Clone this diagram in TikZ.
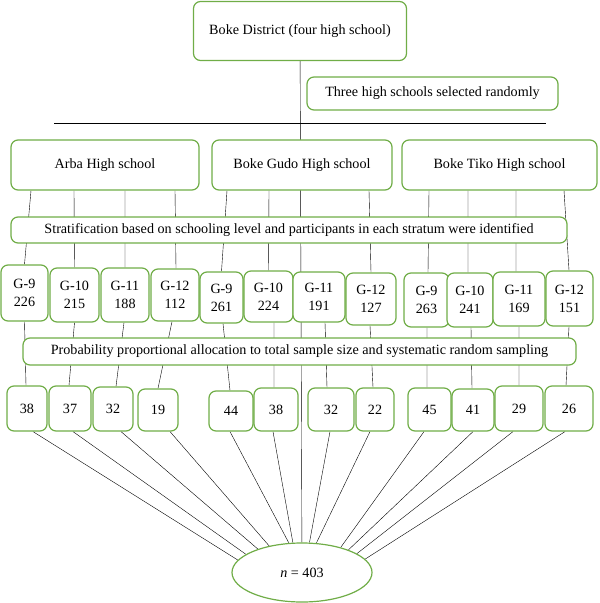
\documentclass[tikz,border=0pt]{standalone}
\usepackage{fontspec}
\setmainfont{Liberation Serif}
\usetikzlibrary{shapes.geometric,backgrounds}
\definecolor{boxgreen}{RGB}{112,173,71}
\tikzset{
  box/.style={draw=boxgreen, line width=1.2bp, rounded corners=7bp, fill=white,
    inner sep=0pt, align=center},
  link/.style={line width=1.1bp},
}

\begin{document}
\begin{tikzpicture}[x=1bp,y=-1bp,font=\fontsize{14.2}{18}\selectfont]
  \useasboundingbox (0,0) rectangle (600,603);

  % district and selected schools
  \node[box, minimum width=213bp, minimum height=59bp] (dist) at (300,31) {Boke District (four high school)};
  \node[box, minimum width=251bp, minimum height=33bp] (sel) at (432.5,93.5) {Three high schools selected randomly};
  \coordinate (hl) at (54,123);
  \coordinate (hr) at (546,123);

  \node[box, minimum width=188bp, minimum height=50bp] (arba) at (105,165) {Arba High school};
  \node[box, minimum width=180bp, minimum height=50bp] (gudo) at (302,165) {Boke Gudo High school};
  \node[box, minimum width=195bp, minimum height=50bp] (tiko) at (499.5,165) {Boke Tiko High school};

  \node[box, minimum width=556bp, minimum height=26bp] (strat) at (289,230) {Stratification based on schooling level and participants in each stratum were identified};

  % grades
  \node[box, minimum width=47bp, minimum height=56bp] (g1)  at (24.5,293)  {G-9\\226};
  \node[box, minimum width=49bp, minimum height=54bp] (g2)  at (74.5,295)  {G-10\\215};
  \node[box, minimum width=48bp, minimum height=54bp] (g3)  at (125,295)   {G-11\\188};
  \node[box, minimum width=48bp, minimum height=52bp] (g4)  at (175,295)   {G-12\\112};
  \node[box, minimum width=43bp, minimum height=51bp] (g5)  at (221.5,297.5) {G-9\\261};
  \node[box, minimum width=49bp, minimum height=51bp] (g6)  at (268.5,296.5) {G-10\\224};
  \node[box, minimum width=52bp, minimum height=50bp] (g7)  at (319,297)   {G-11\\191};
  \node[box, minimum width=50bp, minimum height=52bp] (g8)  at (371,299)   {G-12\\127};
  \node[box, minimum width=45bp, minimum height=54bp] (g9)  at (426.5,300) {G-9\\263};
  \node[box, minimum width=46bp, minimum height=54bp] (g10) at (470,300)   {G-10\\241};
  \node[box, minimum width=52bp, minimum height=54bp] (g11) at (519,299)   {G-11\\169};
  \node[box, minimum width=47bp, minimum height=55bp] (g12) at (569.5,298.5) {G-12\\151};

  \node[box, minimum width=553bp, minimum height=27bp] (prob) at (299.5,351.5) {Probability proportional allocation to total sample size and systematic random sampling};

  % samples
  \node[box, minimum width=40bp, minimum height=45bp] (s1)  at (27,408.5)  {38};
  \node[box, minimum width=42bp, minimum height=45bp] (s2)  at (70,408.5)  {37};
  \node[box, minimum width=40bp, minimum height=44bp] (s3)  at (113,409)   {32};
  \node[box, minimum width=40bp, minimum height=42bp] (s4)  at (158,410)   {19};
  \node[box, minimum width=44bp, minimum height=40bp] (s5)  at (231,411)   {44};
  \node[box, minimum width=44bp, minimum height=43bp] (s6)  at (276,409.5) {38};
  \node[box, minimum width=46bp, minimum height=43bp] (s7)  at (331,409.5) {32};
  \node[box, minimum width=38bp, minimum height=43bp] (s8)  at (375,409.5) {22};
  \node[box, minimum width=43bp, minimum height=43bp] (s9)  at (429.5,409.5) {45};
  \node[box, minimum width=42bp, minimum height=42bp] (s10) at (473,410)   {41};
  \node[box, minimum width=48bp, minimum height=45bp] (s11) at (519,408.5) {29};
  \node[box, minimum width=48bp, minimum height=45bp] (s12) at (569,408.5) {26};

  \node[ellipse, draw=boxgreen, line width=1.2bp, fill=white, inner sep=0pt,
    minimum width=140bp, minimum height=59bp] (n) at (302,572.5) {{\itshape n} = 403};

  \begin{scope}[on background layer, link]
    \draw (dist) -- (n);
    \draw (hl) -- (hr);
    \draw ([xshift=-74bp]arba.south) -- (g1.north)  (g1.south) -- ([xshift=-1bp]s1.north)  ([xshift=6bp]s1.south) -- (n.169.5);
    \draw ([xshift=-31bp]arba.south) -- (g2.north)  (g2.south) -- ([xshift=-1bp]s2.north)  ([xshift=3bp]s2.south) -- (n.162);
    \draw ([xshift=20bp]arba.south) -- (g3.north)   ([xshift=-1bp]g3.south) -- ([xshift=3bp]s3.north)  ([xshift=8bp]s3.south) -- (n.152);
    \draw ([xshift=70bp]arba.south) -- ([xshift=1bp]g4.north)  ([xshift=-3bp]g4.south) -- (s4.north)  ([xshift=12bp]s4.south) -- (n.141.5);
    \draw ([xshift=-75bp]gudo.south) -- (g5.north)  ([xshift=1.5bp]g5.south) -- ([xshift=-1bp]s5.north)  ([xshift=-1bp]s5.south) -- (n.114);
    \draw ([xshift=-33bp]gudo.south) -- (g6.north)  ([xshift=5.5bp]g6.south) -- ([xshift=-2bp]s6.north)  ([xshift=-3bp]s6.south) -- (n.107);
    \draw ([xshift=6bp]g7.south) -- ([xshift=-4bp]s7.north)  ([xshift=-1bp]s7.south) -- (n.76);
    \draw ([xshift=67bp]gudo.south) -- (g8.north)  ([xshift=-1bp]g8.south) -- ([xshift=-2bp]s8.north)  ([xshift=-5bp]s8.south) -- (n.64);
    \draw ([xshift=-70.5bp]tiko.south) -- ([xshift=1.5bp]g9.north)  ([xshift=0.5bp]g9.south) -- ([xshift=-2.5bp]s9.north)  ([xshift=-5.5bp]s9.south) -- (n.33);
    \draw ([xshift=-31.5bp]tiko.south) -- ([xshift=-2bp]g10.north)  ([xshift=1bp]g10.south) -- ([xshift=-1bp]s10.north)  (s10.south) -- (n.26);
    \draw ([xshift=16.5bp]tiko.south) -- ([xshift=-3bp]g11.north)  (g11.south) -- (s11.north)  ([xshift=-6bp]s11.south) -- (n.19);
    \draw ([xshift=64.5bp]tiko.south) -- ([xshift=-0.5bp]g12.north)  ([xshift=-0.5bp]g12.south) -- ([xshift=-3bp]s12.north)  ([xshift=-4bp]s12.south) -- (n.12);
  \end{scope}
\end{tikzpicture}
\end{document}
